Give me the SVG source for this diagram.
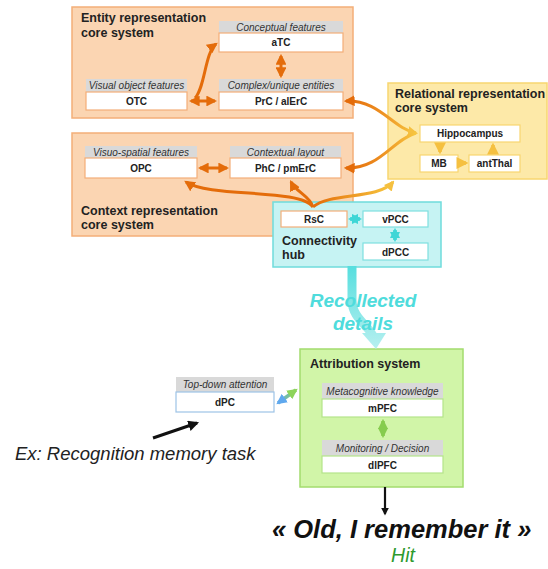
<svg xmlns="http://www.w3.org/2000/svg" width="548" height="569" viewBox="0 0 548 569">
<style>
text{font-family:"Liberation Sans",Arial,sans-serif}
.sysO{fill:#fbd5b2;stroke:#f4ae78;stroke-width:1.5}
.sysY{fill:#fde9a8;stroke:#f8d670;stroke-width:1.5}
.sysC{fill:#c6f3f3;stroke:#6fdcdc;stroke-width:1.5}
.sysG{fill:#d1f5a8;stroke:#a3dc6e;stroke-width:1.5}
.hdr{fill:#d9d9d9}
.nO{fill:#fff;stroke:#f4ae78;stroke-width:1.2}
.nY{fill:#fff;stroke:#f8d670;stroke-width:1.2}
.nC{fill:#fff;stroke:#7fe0e0;stroke-width:1.2}
.nG{fill:#fff;stroke:#b4e48a;stroke-width:1.2}
.nB{fill:#fff;stroke:#9dc3e6;stroke-width:1.2}
.title{font-size:12.5px;font-weight:bold;fill:#222}
.ht{font-size:10px;font-style:italic;fill:#333;text-anchor:middle}
.lb{font-size:10px;font-weight:bold;fill:#222;text-anchor:middle}
.ao{fill:none;stroke:#e46c0a;stroke-width:3}
.ay{fill:none;stroke:#f5c040;stroke-width:3.5}
</style>
<defs>
<marker id="mO" viewBox="0 0 10 10" refX="8" refY="5" markerWidth="3.6" markerHeight="3.6" orient="auto-start-reverse"><path d="M0,0 L10,5 L0,10 z" fill="#e46c0a"/></marker>
<marker id="mY" viewBox="0 0 10 10" refX="8" refY="5" markerWidth="3.4" markerHeight="3.4" orient="auto-start-reverse"><path d="M0,0 L10,5 L0,10 z" fill="#f5c040"/></marker>
<marker id="mC" viewBox="0 0 10 10" refX="8" refY="5" markerWidth="3" markerHeight="3" orient="auto-start-reverse"><path d="M0,0 L10,5 L0,10 z" fill="#3fd6d6"/></marker>
<marker id="mG" viewBox="0 0 10 10" refX="8" refY="5" markerWidth="3" markerHeight="3" orient="auto-start-reverse"><path d="M0,0 L10,5 L0,10 z" fill="#86cc4e"/></marker>
<marker id="mGr" viewBox="0 0 10 10" refX="8" refY="5" markerWidth="3" markerHeight="3" orient="auto-start-reverse"><path d="M0,0 L10,5 L0,10 z" fill="#8ed45a"/></marker>
<marker id="mBl" viewBox="0 0 10 10" refX="8" refY="5" markerWidth="3" markerHeight="3" orient="auto-start-reverse"><path d="M0,0 L10,5 L0,10 z" fill="#5fa8ee"/></marker>
<marker id="mK" viewBox="0 0 10 10" refX="8" refY="5" markerWidth="3.6" markerHeight="3.6" orient="auto"><path d="M0,0 L10,5 L0,10 z" fill="#111"/></marker>
<linearGradient id="gOY" gradientUnits="userSpaceOnUse" x1="345" y1="0" x2="417" y2="0"><stop offset="0" stop-color="#e46c0a"/><stop offset="0.45" stop-color="#ec8a1e"/><stop offset="1" stop-color="#f7c840"/></linearGradient>
<linearGradient id="gOY2" gradientUnits="userSpaceOnUse" x1="313" y1="0" x2="393" y2="0"><stop offset="0" stop-color="#e46c0a"/><stop offset="1" stop-color="#f7c840"/></linearGradient>
<linearGradient id="gBG" gradientUnits="userSpaceOnUse" x1="276" y1="0" x2="298" y2="0"><stop offset="0" stop-color="#5fa8ee"/><stop offset="1" stop-color="#8ed45a"/></linearGradient>
<linearGradient id="gCy" gradientUnits="userSpaceOnUse" x1="0" y1="265" x2="0" y2="350"><stop offset="0" stop-color="#55dede"/><stop offset="1" stop-color="#b8f0f0"/></linearGradient>
</defs>

<!-- system boxes -->
<g id="entity-system">
<rect class="sysO" x="72" y="7" width="281" height="111"/>
<text class="title" x="81" y="22">Entity representation</text>
<text class="title" x="81" y="37">core system</text>
</g>
<g id="context-system">
<rect class="sysO" x="72" y="133" width="281" height="103"/>
<text class="title" x="81" y="215">Context representation</text>
<text class="title" x="81" y="229">core system</text>
</g>
<g id="relational-system">
<rect class="sysY" x="388" y="83" width="159" height="96"/>
<text class="title" x="395" y="98">Relational representation</text>
<text class="title" x="395" y="112">core system</text>
</g>
<g id="hub-system">
<rect class="sysC" x="273" y="202" width="168" height="65"/>
<text class="title" x="282" y="245">Connectivity</text>
<text class="title" x="282" y="259">hub</text>
</g>
<g id="attribution-system">
<rect class="sysG" x="300" y="349" width="163" height="138"/>
<text class="title" x="310" y="368">Attribution system</text>
</g>

<!-- nodes -->
<g id="OTC"><rect class="hdr" x="86" y="79" width="101" height="13"/><text class="ht" x="136.5" y="89">Visual object features</text><rect class="nO" x="86" y="92" width="101" height="18"/><text class="lb" x="136.5" y="105">OTC</text></g>
<g id="aTC"><rect class="hdr" x="219" y="21" width="124" height="12"/><text class="ht" x="281" y="30.5">Conceptual features</text><rect class="nO" x="219" y="33" width="124" height="19"/><text class="lb" x="281" y="46">aTC</text></g>
<g id="PrC"><rect class="hdr" x="219" y="79" width="124" height="13"/><text class="ht" x="281" y="89">Complex/unique entities</text><rect class="nO" x="219" y="92" width="124" height="18"/><text class="lb" x="281" y="105">PrC / alErC</text></g>
<g id="OPC"><rect class="hdr" x="85" y="146" width="112" height="12"/><text class="ht" x="141" y="155.5">Visuo-spatial features</text><rect class="nO" x="85" y="158" width="112" height="20"/><text class="lb" x="141" y="172">OPC</text></g>
<g id="PhC"><rect class="hdr" x="230" y="146" width="111" height="12"/><text class="ht" x="285.5" y="155.5">Contextual layout</text><rect class="nO" x="230" y="158" width="111" height="20"/><text class="lb" x="285.5" y="172">PhC / pmErC</text></g>
<g id="Hippocampus"><rect class="nY" x="420" y="125" width="100" height="17"/><text class="lb" x="470" y="137">Hippocampus</text></g>
<g id="MB"><rect class="nY" x="420" y="155" width="38" height="17"/><text class="lb" x="439" y="167">MB</text></g>
<g id="antThal"><rect class="nY" x="469" y="155" width="51" height="17"/><text class="lb" x="494.5" y="167">antThal</text></g>
<g id="RsC"><rect class="nO" x="281" y="211" width="66" height="16"/><text class="lb" x="314" y="223">RsC</text></g>
<g id="vPCC"><rect class="nC" x="363" y="211" width="65" height="16"/><text class="lb" x="395.5" y="223">vPCC</text></g>
<g id="dPCC"><rect class="nC" x="363" y="243" width="65" height="17"/><text class="lb" x="395.5" y="255.5">dPCC</text></g>
<g id="dPC"><rect class="hdr" x="176" y="377" width="98" height="15"/><text class="ht" x="225" y="388">Top-down attention</text><rect class="nB" x="176" y="392" width="98" height="20"/><text class="lb" x="225" y="406">dPC</text></g>
<g id="mPFC"><rect class="hdr" x="322" y="383" width="121" height="16"/><text class="ht" x="382.5" y="395">Metacognitive knowledge</text><rect class="nG" x="322" y="399" width="121" height="18"/><text class="lb" x="382.5" y="412">mPFC</text></g>
<g id="dlPFC"><rect class="hdr" x="322" y="440" width="121" height="16"/><text class="ht" x="382.5" y="452">Monitoring / Decision</text><rect class="nG" x="322" y="456" width="121" height="17"/><text class="lb" x="382.5" y="468.5">dlPFC</text></g>

<!-- connectors -->
<g id="connectors">
<path class="ao" d="M191,101 L215,101" marker-start="url(#mO)" marker-end="url(#mO)"/>
<path class="ao" d="M195,98 C205,88 205,52 216,44" marker-end="url(#mO)"/>
<path class="ao" d="M281,56 L281,76" marker-start="url(#mO)" marker-end="url(#mO)"/>
<path class="ao" d="M200,168 L227,168" marker-start="url(#mO)" marker-end="url(#mO)"/>
<path fill="none" stroke="url(#gOY)" stroke-width="3" d="M346,101 C380,100 392,128 416,133" marker-start="url(#mO)" marker-end="url(#mY)"/>
<path fill="none" stroke="url(#gOY)" stroke-width="3" d="M346,168 C380,169 392,140 416,133" marker-start="url(#mO)"/>
<path class="ao" d="M313,207 C300,188 210,198 186,182" marker-end="url(#mO)"/>
<path class="ao" d="M313,207 C310,196 296,192 291,182" marker-end="url(#mO)"/>
<path fill="none" stroke="url(#gOY2)" stroke-width="3" d="M313,207 C330,192 378,200 393,182" marker-end="url(#mY)"/>
<path class="ay" d="M440,144 L440,152" marker-end="url(#mY)"/>
<path class="ay" d="M460,163 L466,163" marker-end="url(#mY)"/>
<path class="ay" d="M493,153 L493,145" marker-end="url(#mY)"/>
<path fill="none" stroke="#3fd6d6" stroke-width="3.5" d="M350,219 L360,219" marker-start="url(#mC)" marker-end="url(#mC)"/>
<path fill="none" stroke="#3fd6d6" stroke-width="3.5" d="M395,230 L395,240" marker-start="url(#mC)" marker-end="url(#mC)"/>
<path fill="none" stroke="url(#gCy)" stroke-width="9" d="M352,266 L352,300 C352,318 368,325 373,336"/>
<path fill="url(#gCy)" d="M362,333 L386,333 L376,349 z"/>
<path fill="none" stroke="url(#gBG)" stroke-width="3.5" d="M278,403 L296,390" marker-start="url(#mBl)" marker-end="url(#mGr)"/>
<path fill="none" stroke="#86cc4e" stroke-width="3.5" d="M383,421 L383,436" marker-start="url(#mG)" marker-end="url(#mG)"/>
<path fill="none" stroke="#111" stroke-width="3" d="M153,438 L197,423" marker-end="url(#mK)"/>
<path fill="none" stroke="#111" stroke-width="2.2" d="M385,487 L385,514" marker-end="url(#mK)"/>
</g>

<!-- free labels -->
<g id="labels">
<text x="363" y="307" text-anchor="middle" font-size="19" font-weight="bold" font-style="italic" fill="#4fdcdc">Recollected</text>
<text x="363" y="330" text-anchor="middle" font-size="19" font-weight="bold" font-style="italic" fill="#4fdcdc">details</text>
<text x="15" y="460" font-size="18.5" font-style="italic" fill="#222">Ex: Recognition memory task</text>
<text x="272" y="538" font-size="25.5" font-weight="bold" font-style="italic" fill="#111">« Old, I remember it »</text>
<text x="403" y="562" text-anchor="middle" font-size="19.5" font-style="italic" fill="#2e9a2e">Hit</text>
</g>
</svg>
